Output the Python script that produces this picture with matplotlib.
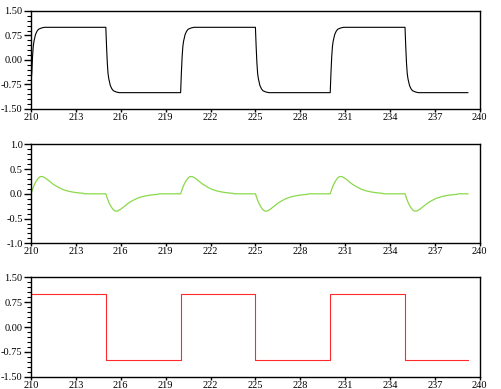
import numpy as np
import matplotlib
matplotlib.use("Agg")
import matplotlib.pyplot as plt
from matplotlib.ticker import MultipleLocator, FormatStrFormatter

# ---- data ----
edge_times = [210, 215, 220, 225, 230, 235]      # square-wave transitions
edge_signs = [1, -1, 1, -1, 1, -1]               # +1 rising, -1 falling
t_end = 239.2

# top: filtered response after a rising edge (falling = negated)
resp_dt = [0, 0.05, 0.1, 0.15, 0.2, 0.3, 0.4, 0.5, 0.7, 0.9]
resp_vals = [-1.0, -0.4, 0.1, 0.42, 0.58, 0.78, 0.88, 0.94, 0.98, 1.0]
top_first_value = -0.7

# middle: transient after a rising edge (falling = negated)
bump_dt = [0, 0.1, 0.2, 0.3, 0.4, 0.5, 0.6, 0.7, 0.8, 1.0, 1.25, 1.5,
           1.8, 2.1, 2.4, 2.7, 3.0, 3.3, 3.5, 3.55]
bump_vals = [0, 0.09, 0.17, 0.23, 0.28, 0.32, 0.345, 0.35, 0.345, 0.31,
             0.25, 0.19, 0.135, 0.09, 0.06, 0.04, 0.025, 0.015, 0.01, 0.0]

# bottom: square wave levels
square_levels = [1.0, -1.0, 1.0, -1.0, 1.0, -1.0]

x_ticks = list(range(210, 241, 3))


def build(shape_dt, shape_vals, hold_value):
    ts, vs = [], []
    for i, (t0, s) in enumerate(zip(edge_times, edge_signs)):
        t_next = edge_times[i + 1] if i + 1 < len(edge_times) else t_end
        for d, v in zip(shape_dt, shape_vals):
            if t0 + d < t_next:
                ts.append(t0 + d)
                vs.append(s * v)
        ts.append(t_next)
        vs.append(s * hold_value)
    return np.array(ts), np.array(vs)


t_top, v_top = build(resp_dt, resp_vals, 1.0)
v_top[0] = top_first_value
t_mid, v_mid = build(bump_dt, bump_vals, 0.0)

t_sq = edge_times + [t_end]
v_sq = square_levels + [square_levels[-1]]

# ---- figure ----
plt.rcParams['font.family'] = ['Liberation Serif', 'DejaVu Serif']
fig = plt.figure(figsize=(5.02, 3.89), dpi=100)

rects = [
    [0.0618, 0.7198, 0.894, 0.252],
    [0.0618, 0.3745, 0.894, 0.2545],
    [0.0618, 0.0316, 0.894, 0.2555],
]
axes = [fig.add_axes(r) for r in rects]

axes[0].plot(t_top, v_top, color='black', lw=0.8)
axes[1].plot(t_mid, v_mid, color='#8ad94a', lw=0.9)
axes[2].plot(t_sq, v_sq, color='#ff2a2a', lw=0.8, drawstyle='steps-post')

ylims = [(-1.5, 1.5), (-1.0, 1.0), (-1.5, 1.5)]
majors = [0.75, 0.5, 0.75]
minors = [0.15, 0.1, 0.15]
fmts = ['%.2f', '%.1f', '%.2f']

for ax, yl, mj, mn, fm in zip(axes, ylims, majors, minors, fmts):
    ax.set_xlim(210, 240)
    ax.set_ylim(*yl)
    ax.set_xticks(x_ticks)
    ax.yaxis.set_major_locator(MultipleLocator(mj))
    ax.yaxis.set_minor_locator(MultipleLocator(mn))
    ax.yaxis.set_major_formatter(FormatStrFormatter(fm))
    ax.tick_params(axis='y', which='major', length=5, width=1, pad=1,
                   labelsize=7.5, direction='out')
    ax.tick_params(axis='y', which='minor', length=3, width=0.8,
                   direction='out')
    ax.tick_params(axis='x', which='major', length=2, width=1, pad=1,
                   labelsize=7.5, direction='out')
    for sp in ax.spines.values():
        sp.set_linewidth(1.0)
        sp.set_color('black')

fig.savefig('out.png', dpi=100)
